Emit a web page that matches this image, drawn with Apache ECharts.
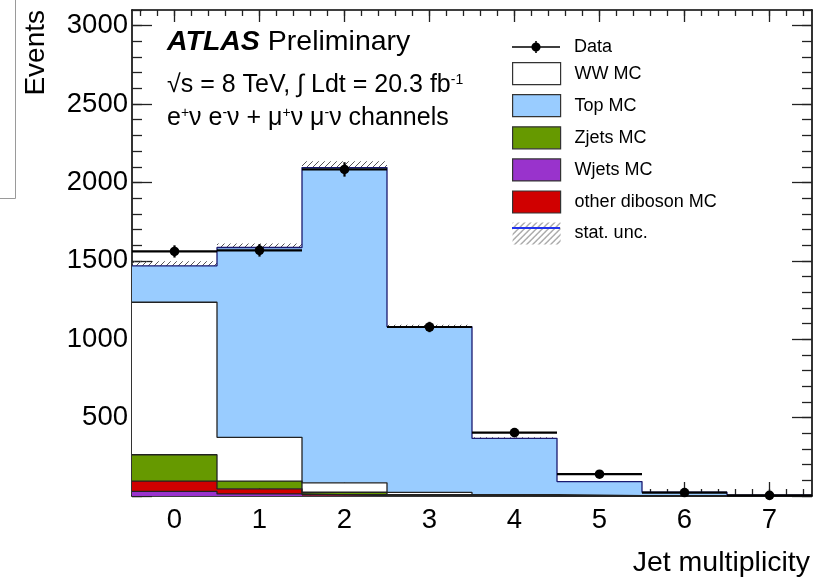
<!DOCTYPE html>
<html>
<head>
<meta charset="utf-8">
<script src="https://cdn.jsdelivr.net/npm/echarts@6/dist/echarts.min.js"></script>
<style>
html,body{margin:0;padding:0;background:#fff;}
#chart{width:813px;height:581px;}
</style>
</head>
<body>
<div id="chart"></div>
<script>
// ---- data ----
const bins = [0, 1, 2, 3, 4, 5, 6, 7];
const dataVals = [1560, 1567, 2083, 1078, 404, 139, 22, 4];
const dataErr  = [39, 40, 46, 33, 20, 12, 5, 2];
const wjetsMC   = [29, 13, 3, 1, 0, 0, 0, 0];
const dibosonMC = [66, 33, 6, 2, 1, 0, 0, 0];
const zjetsMC   = [168, 49, 15, 5, 2, 1, 0, 0];
const wwMC      = [973, 279, 60, 15, 5, 2, 1, 0];
const topMC     = [232, 1211, 2011, 1057, 360, 89, 23, 5];
const statUnc   = [30, 25, 40, 12, 6, 3, 1, 1];
const xTickLabels = [0, 1, 2, 3, 4, 5, 6, 7];
const yTickLabels = [500, 1000, 1500, 2000, 2500, 3000];
const yMajorTicks = [0, 500, 1000, 1500, 2000, 2500, 3000];

const FONT = "'Liberation Sans', Arial, Helvetica, sans-serif";

// minor tick positions
const xMinor = [];
for (let k = -2; k <= 37; k++) xMinor.push(Math.round(k * 2) / 10);
const yMinor = [];
for (let k = 0; k <= 31; k++) yMinor.push(k * 100);

// hatch pattern
const hatch = document.createElement('canvas');
hatch.width = 6; hatch.height = 6;
(function () {
  const c = hatch.getContext('2d');
  c.strokeStyle = '#555';
  c.lineWidth = 1;
  c.beginPath();
  c.moveTo(0, 6); c.lineTo(6, 0);
  c.moveTo(-1, 1); c.lineTo(1, -1);
  c.moveTo(5, 7); c.lineTo(7, 5);
  c.stroke();
})();
const hatchPattern = { image: hatch, repeat: 'repeat' };

function stepData(vals) {
  const pts = vals.map((v, i) => [bins[i] - 0.5, v]);
  pts.push([bins[bins.length - 1] + 0.5, vals[vals.length - 1]]);
  return pts;
}

const layers = [
  { name: 'Wjets MC', vals: wjetsMC, fill: '#9933cc', line: '#222' },
  { name: 'other diboson MC', vals: dibosonMC, fill: '#d00000', line: '#222' },
  { name: 'Zjets MC', vals: zjetsMC, fill: '#669900', line: '#222' },
  { name: 'WW MC', vals: wwMC, fill: '#ffffff', line: '#222' },
  { name: 'Top MC', vals: topMC, fill: '#99ccff', line: '#1a1a70' }
];

// cumulative stacking
let running = bins.map(() => 0);
layers.forEach(l => {
  l.lower = running.slice();
  l.upper = running.map((v, i) => v + l.vals[i]);
  running = l.upper;
});
const mcTotal = running;

const series = [];
// stat. unc. band (below the fills)
series.push({
  name: 'stat. unc.',
  type: 'custom',
  z: 1,
  xAxisIndex: 0, yAxisIndex: 0,
  itemStyle: { color: '#555' },
  data: bins.map((b, i) => [b, mcTotal[i], statUnc[i]]),
  renderItem: function (params, api) {
    const x = api.value(0), m = api.value(1), e = api.value(2);
    const p1 = api.coord([x - 0.5, m + e]);
    const p2 = api.coord([x + 0.5, m - e]);
    return { type: 'rect', shape: { x: p1[0], y: p1[1], width: p2[0] - p1[0], height: p2[1] - p1[1] },
             style: { fill: hatchPattern } };
  }
});
// filled stacked bins
layers.forEach(l => {
  series.push({
    name: l.name, type: 'custom', z: 2, silent: true,
    xAxisIndex: 0, yAxisIndex: 0,
    itemStyle: { color: l.fill },
    data: bins.map((b, i) => [b, l.lower[i], l.upper[i]]),
    renderItem: function (params, api) {
      const x = api.value(0), lo = api.value(1), hi = api.value(2);
      const p1 = api.coord([x - 0.5, hi]);
      const p2 = api.coord([x + 0.5, lo]);
      return { type: 'rect', shape: { x: p1[0], y: p1[1], width: p2[0] - p1[0], height: p2[1] - p1[1] },
               style: { fill: l.fill } };
    }
  });
});
// histogram outlines
layers.forEach(l => {
  series.push({
    name: l.name + ' outline', type: 'line', step: 'end', symbol: 'none', z: 3,
    xAxisIndex: 0, yAxisIndex: 0,
    data: stepData(l.upper),
    lineStyle: { width: 1.3, color: l.line },
    itemStyle: { color: l.line },
    silent: true
  });
});
// data points
series.push({
  name: 'Data', type: 'custom', z: 5, clip: false,
  xAxisIndex: 0, yAxisIndex: 0,
  itemStyle: { color: '#000' },
  data: bins.map((b, i) => [b, dataVals[i], dataErr[i]]),
  renderItem: function (params, api) {
    const x = api.value(0), y = api.value(1), e = api.value(2);
    const l = api.coord([x - 0.5, y]), r = api.coord([x + 0.5, y]);
    const c = api.coord([x, y]);
    const t = api.coord([x, y + e]), bt = api.coord([x, y - e]);
    return { type: 'group', children: [
      { type: 'line', shape: { x1: l[0], y1: l[1], x2: r[0], y2: r[1] }, style: { stroke: '#000', lineWidth: 2.2 } },
      { type: 'line', shape: { x1: t[0], y1: t[1], x2: bt[0], y2: bt[1] }, style: { stroke: '#000', lineWidth: 2.2 } },
      { type: 'circle', shape: { cx: c[0], cy: c[1], r: 4.8 }, style: { fill: '#000' } }
    ] };
  }
});

const axisBase = (extra) => Object.assign({
  type: 'value', gridIndex: 0,
  splitLine: { show: false },
  axisLabel: { show: false },
  axisLine: { show: false, onZero: false }
}, extra);

const tickStyle = { color: '#222', width: 1.3 };
const plainNum = (v) => String(v);

const option = {
  animation: false,
  backgroundColor: '#fff',
  textStyle: { fontFamily: FONT, color: '#000' },
  grid: { left: 132, top: 10, width: 680, height: 486, containLabel: false, outerBoundsMode: 'none' },
  title: [
    { text: '{a|ATLAS} Preliminary', left: 167, top: 28, padding: 0,
      textStyle: { fontSize: 28.5, fontWeight: 'normal', color: '#000', fontFamily: FONT,
        rich: { a: { fontSize: 28.5, fontWeight: 'bold', fontStyle: 'italic', color: '#000', fontFamily: FONT } } } },
    { text: '\u221As = 8 TeV, \u222B Ldt = 20.3 fb{s|-1}', left: 167, top: 73, padding: 0,
      textStyle: { fontSize: 25, fontWeight: 'normal', color: '#000', fontFamily: FONT,
        rich: { s: { fontSize: 14, verticalAlign: 'top', color: '#000', fontFamily: FONT } } } },
    { text: 'e{s|+}\u03BD e{s|-}\u03BD + \u03BC{s|+}\u03BD \u03BC{s|-}\u03BD channels', left: 167, top: 106, padding: 0,
      textStyle: { fontSize: 25, fontWeight: 'normal', color: '#000', fontFamily: FONT,
        rich: { s: { fontSize: 14, verticalAlign: 'top', color: '#000', fontFamily: FONT } } } }
  ],
  legend: [
    { left: 512, top: 38, padding: 0, itemWidth: 48, itemHeight: 12, selectedMode: false,
      textStyle: { fontSize: 18, color: '#000', fontFamily: FONT, padding: [0, 0, 0, 9] },
      data: [{ name: 'Data', icon: 'path://M0,5.2 L48,5.2 L48,6.8 L0,6.8 Z M23.2,0 L24.8,0 L24.8,12 L23.2,12 Z M24,1.4 A4.6,4.6 0 1 1 23.99,1.4 Z',
               itemStyle: { color: '#000', borderWidth: 0 } }] },
    { left: 512, top: 62, padding: 0, orient: 'vertical', itemWidth: 48, itemHeight: 22, itemGap: 8.9, selectedMode: false,
      textStyle: { fontSize: 18, color: '#000', fontFamily: FONT, padding: [0, 0, 0, 9] },
      data: [
        { name: 'WW MC', icon: 'rect', itemStyle: { color: '#ffffff', borderColor: '#333', borderWidth: 1.2 } },
        { name: 'Top MC', icon: 'rect', itemStyle: { color: '#99ccff', borderColor: '#333', borderWidth: 1.2 } },
        { name: 'Zjets MC', icon: 'rect', itemStyle: { color: '#669900', borderColor: '#333', borderWidth: 1.2 } },
        { name: 'Wjets MC', icon: 'rect', itemStyle: { color: '#9933cc', borderColor: '#333', borderWidth: 1.2 } },
        { name: 'other diboson MC', icon: 'rect', itemStyle: { color: '#d00000', borderColor: '#333', borderWidth: 1.2 } },
        { name: 'stat. unc.', icon: 'rect', itemStyle: { color: hatchPattern, borderWidth: 0 } }
      ] }
  ],
  xAxis: [
    axisBase({ min: -0.5, max: 7.5, position: 'bottom',
      axisLine: { show: true, onZero: false, lineStyle: { color: '#000', width: 1.6 } },
      axisTick: { show: true, inside: true, length: 14, customValues: xTickLabels, lineStyle: tickStyle },
      axisLabel: { show: true, customValues: xTickLabels, formatter: plainNum, fontSize: 27.5, color: '#000', margin: 10, fontFamily: FONT },
      name: 'Jet multiplicity', nameLocation: 'end', nameGap: 0, nameMoveOverlap: false,
      nameTextStyle: { fontSize: 28.5, color: '#000', fontFamily: FONT, align: 'right', verticalAlign: 'top', padding: [53, 2, 0, 0] } }),
    axisBase({ min: -0.5, max: 7.5, position: 'bottom',
      axisTick: { show: true, inside: true, length: 7, customValues: xMinor, lineStyle: tickStyle } }),
    axisBase({ min: -0.5, max: 7.5, position: 'top',
      axisLine: { show: true, onZero: false, lineStyle: { color: '#000', width: 1.6 } },
      axisTick: { show: true, inside: true, length: 12, customValues: xTickLabels, lineStyle: tickStyle } }),
    axisBase({ min: -0.5, max: 7.5, position: 'top',
      axisTick: { show: true, inside: true, length: 6, customValues: xMinor, lineStyle: tickStyle } })
  ],
  yAxis: [
    axisBase({ min: 0, max: 3100, position: 'left',
      axisLine: { show: true, onZero: false, lineStyle: { color: '#000', width: 1.6 } },
      axisTick: { show: true, inside: true, length: 20, customValues: yMajorTicks, lineStyle: tickStyle },
      axisLabel: { show: true, customValues: yTickLabels, formatter: plainNum, fontSize: 27.5, color: '#000', margin: 4, fontFamily: FONT },
      name: 'Events', nameLocation: 'end', nameGap: 0, nameRotate: 90, nameMoveOverlap: false,
      nameTextStyle: { fontSize: 28, color: '#000', fontFamily: FONT, align: 'right', verticalAlign: 'bottom', padding: [0, 0, 82, 0] } }),
    axisBase({ min: 0, max: 3100, position: 'left',
      axisTick: { show: true, inside: true, length: 10, customValues: yMinor, lineStyle: tickStyle } }),
    axisBase({ min: 0, max: 3100, position: 'right',
      axisLine: { show: true, onZero: false, lineStyle: { color: '#000', width: 1.6 } },
      axisTick: { show: true, inside: true, length: 20, customValues: yMajorTicks, lineStyle: tickStyle } }),
    axisBase({ min: 0, max: 3100, position: 'right',
      axisTick: { show: true, inside: true, length: 10, customValues: yMinor, lineStyle: tickStyle } })
  ],
  graphic: [
    { type: 'polyline', silent: true, shape: { points: [[15.5, 0], [15.5, 198.5], [0, 198.5]] },
      style: { stroke: '#9a9a9a', lineWidth: 1, fill: null } },
    { type: 'line', silent: true, z: 100, shape: { x1: 512, y1: 228, x2: 560, y2: 228 },
      style: { stroke: '#2233ee', lineWidth: 2.2 } }
  ],
  series: series
};

const chart = echarts.init(document.getElementById('chart'), null, { renderer: 'canvas' });
chart.setOption(option);
</script>
</body>
</html>
